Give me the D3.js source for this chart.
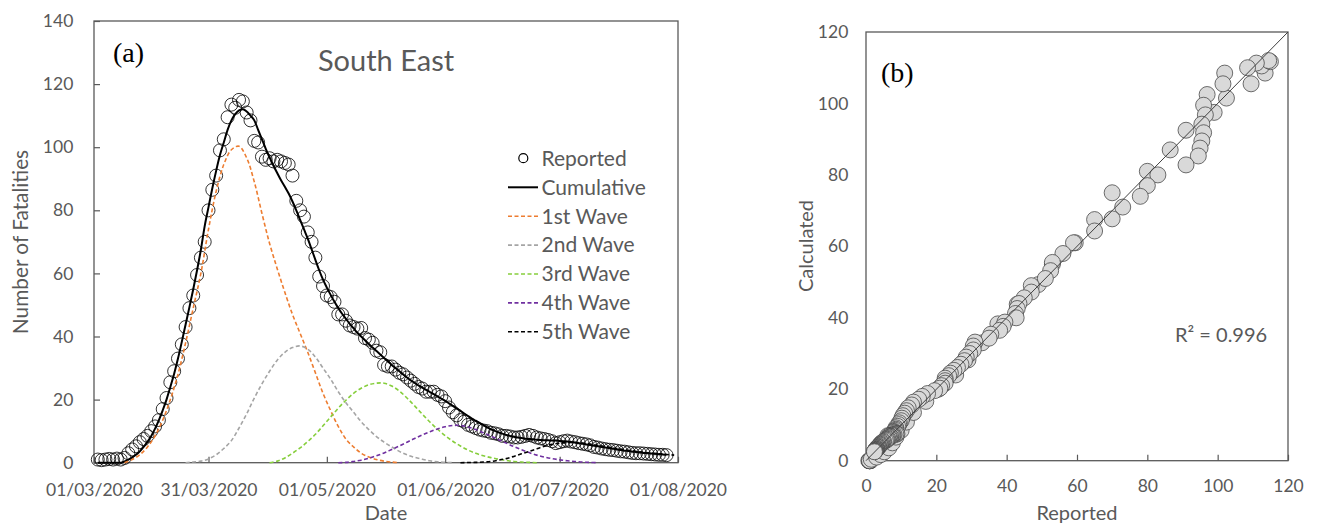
<!DOCTYPE html>
<html><head><meta charset="utf-8">
<script src="https://cdn.jsdelivr.net/npm/d3@7"></script>
<style>body{margin:0;background:#fff}svg{display:block}</style>
</head><body>
<svg id="chart" width="1338" height="524"></svg>
<script>
// ---------- DATA ----------
const startDate = "2020-03-02"; // first reported day
// reported daily fatalities, 02/03/2020 .. 30/07/2020
const reported = [
  1, 0.8, 1, 1.2, 1, 1.3, 1, 1.5, 3, 4.2,
  5.2, 6.5, 7.5, 8.5, 10, 11.5, 13.5, 17, 20.5, 25.5,
  29, 33, 37.5, 43, 49, 53, 59.5, 65, 70, 80,
  86.5, 91, 99, 102.5, 109.5, 113.5, 112.5, 115, 114.5, 111,
  108.5, 102, 101.5, 97, 96, 96.5, 95.5, 96, 95.5, 95,
  94.5, 91, 83, 80, 78, 73, 70, 65, 59, 56,
  53, 52.5, 51, 47, 47, 45, 43.5, 43, 42.5, 42.7,
  39.5, 39, 38, 35.5, 35, 31, 30.5, 30.5, 29.5, 28.5,
  28, 27, 26, 25, 24, 23.5, 22.5, 22.5, 22.5, 21.5,
  21, 19.5, 17.5, 16, 15, 13.5, 13, 12, 11.5, 11,
  10.5, 10.2, 10, 9.5, 9.3, 9, 8.5, 8.5, 8.3, 8,
  8, 8.2, 8.5, 8.8, 8.5, 8, 7.7, 7.5, 7.2, 6.8,
  6.2, 6.5, 6.8, 7, 6.7, 6.5, 6.2, 6, 5.8, 5.5,
  5, 4.8, 4.5, 4.3, 4.1, 4, 3.8, 3.6, 3.5, 3.3,
  3.1, 3, 3, 2.9, 2.8, 2.7, 2.6, 2.5, 2.5, 2.4
];
// calculated (cumulative model) for the same days
const calculated = [
  0, 0, 0, 0, 0, 0, 0, 0.4, 1, 1.7,
  2.5, 3.6, 5, 6.6, 8.5, 10.8, 13.5, 16.6, 20, 24,
  28.2, 33, 38.3, 43.8, 49.3, 55, 61, 67.5, 75, 81,
  87, 92.5, 97.5, 101.5, 105.5, 108.5, 110.5, 111.7, 112, 111.3,
  110, 108.5, 105.5, 102.5, 99.5, 96.8, 94.2, 91.8, 89.5, 87.5,
  85.3, 82.8, 80, 77, 74, 71, 67.7, 64.3, 61, 58,
  55.5, 53.2, 51, 49, 47.2, 45.6, 44, 42.6, 41.2, 40,
  38.8, 37.6, 36.5, 35.4, 34.3, 33.2, 32.1, 31, 30, 29,
  28, 27, 26.1, 25.3, 24.5, 23.8, 23.1, 22.4, 21.7, 21,
  20.3, 19.6, 18.8, 18, 17.2, 16.4, 15.6, 14.8, 14, 13.3,
  12.6, 11.9, 11.2, 10.6, 10.1, 9.6, 9.2, 8.8, 8.5, 8.2,
  8, 7.8, 7.6, 7.5, 7.4, 7.3, 7.2, 7.1, 7.1, 7,
  7, 6.9, 6.8, 6.7, 6.6, 6.4, 6.2, 6, 5.8, 5.6,
  5.4, 5.2, 5, 4.8, 4.6, 4.4, 4.2, 4, 3.8, 3.7,
  3.5, 3.4, 3.2, 3.1, 3, 2.9, 2.8, 2.7, 2.6, 2.5
];
// waves: values every 2 days, starting at the given date
const wave1Start = "2020-03-09";
const wave1 = [0, 1, 2.5, 5, 8.5, 13.5, 20, 28, 38, 49, 60, 74, 86, 94.5, 99.2, 100.3, 96.6, 89, 79, 69.5,
  61.5, 54, 47, 41, 35, 28.5, 22, 16.5, 11.5, 7.5, 5, 3, 1.8, 1, 0.5, 0.2, 0];
const wave2Start = "2020-03-25";
const wave2 = [0, 0.2, 0.5, 1.2, 2.5, 4.5, 7, 11, 15.5, 20.5, 25, 29, 32.5, 35, 36.5, 37, 36, 33.5, 30, 26.5,
  22.5, 19, 16, 13, 10.5, 8.3, 6.5, 5, 3.6, 2.5, 1.7, 1.1, 0.6, 0.3, 0.1, 0];
const wave3Start = "2020-04-16";
const wave3 = [0, 0.5, 1.5, 3, 4.7, 6.7, 9, 11.7, 14.5, 17.3, 19.8, 22, 23.6, 24.7, 25.2, 25.2, 24.3, 22.7, 20.5, 18,
  15.4, 12.9, 10.6, 8.6, 6.8, 5.3, 4, 3, 2.2, 1.6, 1.1, 0.7, 0.4, 0.2, 0.1, 0];
const wave4Start = "2020-05-04";
const wave4 = [0, 0.1, 0.4, 0.8, 1.4, 2.2, 3.1, 4.2, 5.3, 6.5, 7.7, 8.8, 9.8, 10.7, 11.4, 11.8, 11.8, 11.3, 10.5, 9.5,
  8.4, 7.3, 6.2, 5.1, 4.1, 3.2, 2.4, 1.8, 1.3, 0.9, 0.6, 0.4, 0.2, 0.1, 0];
const wave5Start = "2020-06-05";
const wave5 = [0, 0.05, 0.1, 0.2, 0.4, 0.8, 1.3, 2, 2.8, 3.6, 4.4, 5.2, 5.8, 6.2, 6.4, 6.4, 6.2, 5.9, 5.5, 5.1,
  4.7, 4.3, 3.9, 3.6, 3.3, 3, 2.8, 2.6, 2.4];
const waveStep = 2; // days between wave samples

const xTickLabels = ["01/03/2020", "31/03/2020", "01/05/2020", "01/06/2020", "01/07/2020", "01/08/2020"];
const yTicksA = [0, 20, 40, 60, 80, 100, 120, 140];
const ticksB = [0, 20, 40, 60, 80, 100, 120];
const legendLabels = ["Reported", "Cumulative", "1st Wave", "2nd Wave", "3rd Wave", "4th Wave", "5th Wave"];
const waveColors = ["#ED7D31", "#A5A5A5", "#86CE3C", "#7030A0", "#000000"];
const rSquared = "R² = 0.996";

// ---------- DRAW ----------
const svg = d3.select("#chart");
svg.append("rect").attr("width", 1338).attr("height", 524).attr("fill", "#fff");
const SANS = "Lato, 'Open Sans', sans-serif";
const SERIF = "'Liberation Serif', 'DejaVu Serif', serif";
const AX = "#595959";
const parse = d3.utcParse("%Y-%m-%d");
const parseTick = d3.utcParse("%d/%m/%Y");
const d0 = parse(startDate);
const days = reported.map((_, i) => d3.utcDay.offset(d0, i));

// ===== Panel (a) =====
const xA = d3.scaleUtc().domain([parseTick(xTickLabels[0]), parseTick(xTickLabels[xTickLabels.length - 1])]).range([94, 678]);
const yA = d3.scaleLinear().domain([0, 140]).range([462.7, 21]);

const gA = svg.append("g");
const axA_x = gA.append("g").attr("transform", `translate(0,${yA(0)})`)
  .call(d3.axisBottom(xA).tickValues(xTickLabels.map(parseTick)).tickFormat(d3.utcFormat("%d/%m/%Y"))
    .tickSizeInner(-6).tickSizeOuter(0).tickPadding(20.5));
const axA_y = gA.append("g").attr("transform", `translate(${xA.range()[0]},0)`)
  .call(d3.axisLeft(yA).tickValues(yTicksA).tickSizeInner(-6).tickSizeOuter(0).tickPadding(20.7));
[axA_x, axA_y].forEach(a => {
  a.select(".domain").remove();
  a.selectAll("line").attr("stroke", AX).attr("stroke-width", 1.2);
  a.selectAll("text").attr("fill", AX).attr("font-family", SANS).attr("font-size", 17.5);
});
gA.append("rect").attr("x", xA.range()[0]).attr("y", yA(140)).attr("width", xA.range()[1] - xA.range()[0])
  .attr("height", yA(0) - yA(140)).attr("fill", "none").attr("stroke", AX).attr("stroke-width", 1.3);

// reported circles
gA.append("g").selectAll("circle").data(reported).join("circle")
  .attr("cx", (d, i) => xA(days[i])).attr("cy", d => yA(d)).attr("r", 6.5)
  .attr("fill", "none").attr("stroke", "#000").attr("stroke-opacity", 0.8).attr("stroke-width", 1);

// cumulative line
const lineA = d3.line().curve(d3.curveMonotoneX).x(d => xA(d[0])).y(d => yA(d[1]));
gA.append("path").datum(calculated.map((v, i) => [days[i], v]))
  .attr("d", lineA).attr("fill", "none").attr("stroke", "#000").attr("stroke-width", 2);

// waves
const waves = [[wave1Start, wave1], [wave2Start, wave2], [wave3Start, wave3], [wave4Start, wave4], [wave5Start, wave5]];
const lineW = d3.line().curve(d3.curveCatmullRom.alpha(0.5)).x(d => xA(d[0])).y(d => yA(d[1]));
waves.forEach(([s, vals], k) => {
  const ws = parse(s);
  gA.append("path").datum(vals.map((v, i) => [d3.utcDay.offset(ws, i * waveStep), v]))
    .attr("d", lineW).attr("fill", "none").attr("stroke", waveColors[k])
    .attr("stroke-width", 1.6).attr("stroke-dasharray", "4,2.5");
});

// titles
gA.append("text").attr("x", 386).attr("y", 71).attr("text-anchor", "middle")
  .attr("font-family", SANS).attr("font-size", 29).attr("fill", AX).text("South East");
gA.append("text").attr("x", 113).attr("y", 62).attr("font-family", SERIF).attr("font-size", 28).attr("fill", "#000").text("(a)");
gA.append("text").attr("x", 386).attr("y", 520).attr("text-anchor", "middle")
  .attr("font-family", SANS).attr("font-size", 20).attr("fill", AX).text("Date");
gA.append("text").attr("transform", "translate(28,242) rotate(-90)").attr("text-anchor", "middle")
  .attr("font-family", SANS).attr("font-size", 20.8).attr("fill", AX).text("Number of Fatalities");

// legend
const lg = gA.append("g");
legendLabels.forEach((lab, i) => {
  const by = 165.7 + i * 28.9;
  lg.append("text").attr("x", 541.5).attr("y", by).attr("font-family", SANS).attr("font-size", 21)
    .attr("fill", AX).text(lab);
  if (i === 0) {
    lg.append("circle").attr("cx", 523.3).attr("cy", by - 7.5).attr("r", 4.5)
      .attr("fill", "none").attr("stroke", "#000").attr("stroke-width", 1.2);
  } else {
    const ln = lg.append("line").attr("x1", 508).attr("x2", 538).attr("y1", by - 7.3).attr("y2", by - 7.3);
    if (i === 1) ln.attr("stroke", "#000").attr("stroke-width", 2);
    else ln.attr("stroke", waveColors[i - 2]).attr("stroke-width", 1.6).attr("stroke-dasharray", "4,2.5");
  }
});

// ===== Panel (b) =====
const xB = d3.scaleLinear().domain([0, 120]).range([866, 1288]);
const yB = d3.scaleLinear().domain([0, 120]).range([460.7, 32]);
const gB = svg.append("g");
const axB_x = gB.append("g").attr("transform", `translate(0,${yB(0)})`)
  .call(d3.axisBottom(xB).tickValues(ticksB).tickSizeInner(-6).tickSizeOuter(0).tickPadding(18.9));
const axB_y = gB.append("g").attr("transform", `translate(${xB(0)},0)`)
  .call(d3.axisLeft(yB).tickValues(ticksB).tickSizeInner(0).tickSizeOuter(0).tickPadding(17.7));
[axB_x, axB_y].forEach(a => {
  a.select(".domain").remove();
  a.selectAll("line").attr("stroke", AX).attr("stroke-width", 1.2);
  a.selectAll("text").attr("fill", AX).attr("font-family", SANS).attr("font-size", 17.5);
});
gB.append("rect").attr("x", xB(0)).attr("y", yB(120)).attr("width", xB(120) - xB(0))
  .attr("height", yB(0) - yB(120)).attr("fill", "none").attr("stroke", AX).attr("stroke-width", 1.3);

gB.append("g").selectAll("circle").data(reported).join("circle")
  .attr("cx", d => xB(d)).attr("cy", (d, i) => yB(calculated[i])).attr("r", 8)
  .attr("fill", "#D9D9D9").attr("stroke", "#404040").attr("stroke-opacity", 0.75).attr("stroke-width", 1);

gB.append("line").attr("x1", xB(0)).attr("y1", yB(0)).attr("x2", xB(120)).attr("y2", yB(120))
  .attr("stroke", "#404040").attr("stroke-width", 1);

gB.append("text").attr("x", 881).attr("y", 82).attr("font-family", SERIF).attr("font-size", 28).attr("fill", "#000").text("(b)");
gB.append("text").attr("x", 1175).attr("y", 342).attr("font-family", SANS).attr("font-size", 20).attr("fill", AX).text(rSquared);
gB.append("text").attr("x", 1077).attr("y", 520).attr("text-anchor", "middle")
  .attr("font-family", SANS).attr("font-size", 20).attr("fill", AX).text("Reported");
gB.append("text").attr("transform", "translate(813,246) rotate(-90)").attr("text-anchor", "middle")
  .attr("font-family", SANS).attr("font-size", 20).attr("fill", AX).text("Calculated");
</script>
</body></html>
